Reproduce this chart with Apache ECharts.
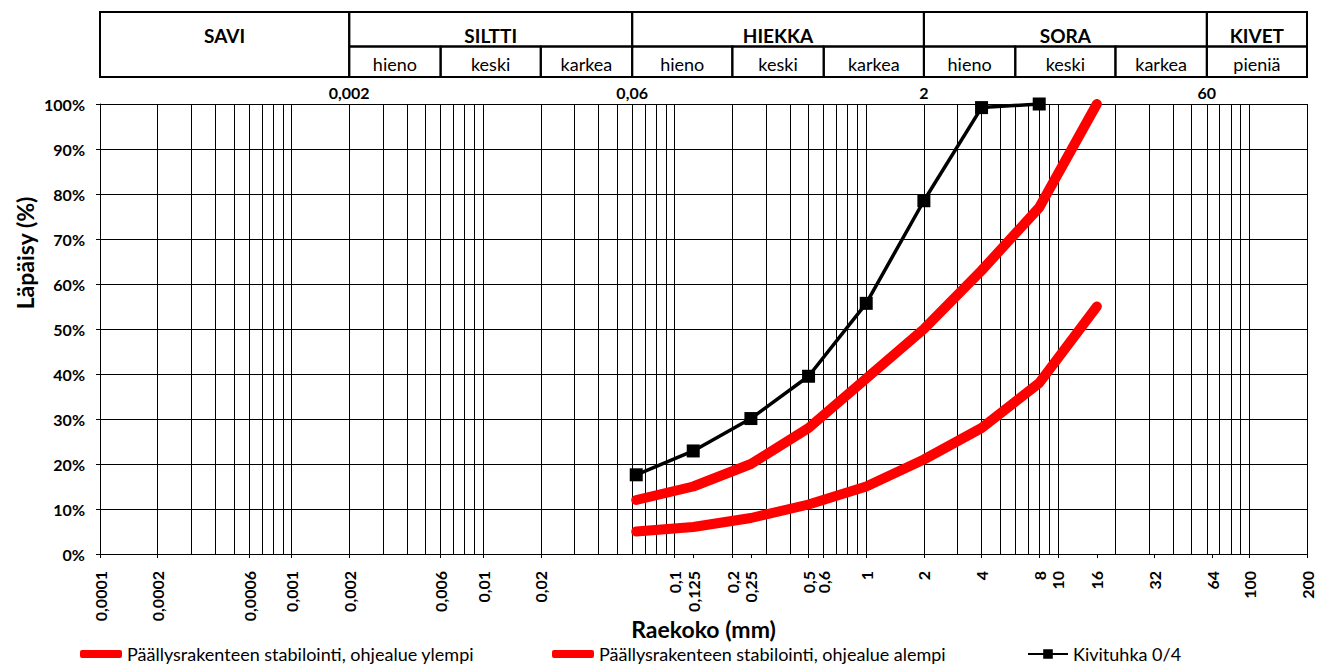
<!DOCTYPE html>
<html><head><meta charset="utf-8">
<script src="https://cdn.jsdelivr.net/npm/echarts@6/dist/echarts.min.js"></script>
<style>html,body{margin:0;padding:0;background:#fff}#c{width:1319px;height:666px}</style>
</head><body><div id="c"></div>
<script>
// ---- data ----
const seriesNames = ['Päällysrakenteen stabilointi, ohjealue ylempi', 'Päällysrakenteen stabilointi, ohjealue alempi', 'Kivituhka 0/4'];
const limitSizes = [0.063, 0.125, 0.25, 0.5, 1, 2, 4, 8, 16];
const upperLimit = [12, 15, 20, 28, 39, 50, 63, 77, 100];
const lowerLimit = [5, 6, 8, 11, 15, 21, 28, 38, 55];
const kivituhkaSizes = [0.063, 0.125, 0.25, 0.5, 1, 2, 4, 8];
const kivituhka = [17.6, 22.9, 30.1, 39.5, 55.7, 78.5, 99.2, 100];
const xTickValues = [0.0001, 0.0002, 0.0006, 0.001, 0.002, 0.006, 0.01, 0.02, 0.1, 0.125, 0.2, 0.25, 0.5, 0.6, 1, 2, 4, 8, 10, 16, 32, 64, 100, 200];
const boundaryValues = [0.002, 0.06, 2, 60];
const mainGroups = ['SAVI', 'SILTTI', 'HIEKKA', 'SORA', 'KIVET'];
const mainBounds = [[0.0001, 0.002], [0.002, 0.06], [0.06, 2], [2, 60], [60, 200]];
const subGroups = ['hieno', 'keski', 'karkea', 'hieno', 'keski', 'karkea', 'hieno', 'keski', 'karkea', 'pieniä'];
const subBounds = [[0.002, 0.006], [0.006, 0.02], [0.02, 0.06], [0.06, 0.2], [0.2, 0.6], [0.6, 2], [2, 6], [6, 20], [20, 60], [60, 200]];
const xMin = 0.0001, xMax = 200;

// log grid lines: 1..9 per decade, plus 200
const gridValues = [];
for (let e = -4; e <= 1; e++) for (let m = 1; m <= 9; m++) gridValues.push(parseFloat((m * Math.pow(10, e)).toPrecision(3)));
gridValues.push(100, 200);

const FONT = 'Lato, "Open Sans", sans-serif';
const fmt = v => String(parseFloat(Number(v).toPrecision(6))).replace('.', ',');
const zip = (xs, ys) => xs.map((x, i) => [x, ys[i]]);

const chart = echarts.init(document.getElementById('c'), null, {renderer: 'svg'});

function cell(api, from, to, yTop, yBot, textY, text, font) {
  const p0 = api.coord([from, yTop]);
  const p1 = api.coord([to, yBot]);
  const pt = api.coord([from, textY]);
  return {
    type: 'group',
    children: [
      {type: 'rect', shape: {x: p0[0], y: p0[1], width: p1[0] - p0[0], height: p1[1] - p0[1]},
       style: {fill: 'none', stroke: '#000', lineWidth: 2}},
      {type: 'text', style: {text: text, x: (p0[0] + p1[0]) / 2, y: pt[1], align: 'center', verticalAlign: 'middle', font: font, fill: '#000'}}
    ]
  };
}

const legendText = {fontFamily: FONT, fontSize: 18, color: '#000'};

const option = {
  animation: false,
  backgroundColor: '#fff',
  grid: [
    {left: 100, right: 12, top: 104, bottom: 112, containLabel: false},
    {left: 100, right: 12, top: 12, height: 65, containLabel: false}
  ],
  xAxis: [
    { // grid lines
      type: 'log', gridIndex: 0, min: xMin, max: xMax, position: 'bottom',
      axisLine: {show: true, onZero: false, lineStyle: {color: '#000', width: 1}},
      axisTick: {show: false, customValues: gridValues},
      axisLabel: {show: false},
      splitLine: {show: true, lineStyle: {color: '#000', width: 1}}
    },
    { // labelled ticks
      type: 'log', gridIndex: 0, min: xMin, max: xMax, position: 'bottom',
      axisLine: {show: false},
      axisTick: {show: true, inside: false, length: 4, customValues: xTickValues, lineStyle: {color: '#000'}},
      axisLabel: {show: true, customValues: xTickValues, rotate: 90, margin: 17, formatter: fmt,
        fontFamily: FONT, fontWeight: 'bold', fontSize: 16, color: '#000'},
      splitLine: {show: false},
      name: 'Raekoko (mm)', nameLocation: 'middle', nameGap: 63, nameMoveOverlap: false,
      nameTextStyle: {fontFamily: FONT, fontWeight: 'bold', fontSize: 23, color: '#000'}
    },
    { // header boundaries
      type: 'log', gridIndex: 1, min: xMin, max: xMax, position: 'bottom',
      axisLine: {show: false}, axisTick: {show: false}, splitLine: {show: false},
      axisLabel: {show: true, customValues: boundaryValues, margin: 7, formatter: fmt,
        fontFamily: FONT, fontWeight: 'bold', fontSize: 16, color: '#000'}
    }
  ],
  yAxis: [
    {
      type: 'value', gridIndex: 0, min: 0, max: 100, interval: 10,
      axisLine: {show: true, lineStyle: {color: '#000', width: 1}},
      axisTick: {show: true, inside: false, length: 4, lineStyle: {color: '#000'}},
      axisLabel: {formatter: '{value}%', margin: 15, fontFamily: FONT, fontWeight: 'bold', fontSize: 16, color: '#000'},
      splitLine: {show: true, lineStyle: {color: '#000', width: 1}}
    },
    {type: 'value', gridIndex: 1, min: 0, max: 1, show: false}
  ],
  graphic: [
    {type: 'text', x: 25, y: 253, rotation: Math.PI / 2,
     style: {text: 'Läpäisy (%)', align: 'center', verticalAlign: 'middle', font: 'bold 23px ' + FONT, fill: '#000'}}
  ],
  legend: [
    {data: [seriesNames[0]], left: 80, top: 645, padding: 0, icon: 'roundRect', itemWidth: 42, itemHeight: 8,
     textStyle: legendText, selectedMode: false},
    {data: [seriesNames[1]], left: 552, top: 645, padding: 0, icon: 'roundRect', itemWidth: 42, itemHeight: 8,
     textStyle: legendText, selectedMode: false},
    {data: [seriesNames[2]], left: 1027, top: 645, padding: 0, itemWidth: 40, itemHeight: 12,
     textStyle: legendText, selectedMode: false}
  ],
  series: [
    {name: seriesNames[0], type: 'line', xAxisIndex: 0, yAxisIndex: 0, data: zip(limitSizes, upperLimit),
     symbol: 'none', itemStyle: {color: '#ff0000'},
     lineStyle: {color: '#ff0000', width: 10, cap: 'round', join: 'round'}, z: 3},
    {name: seriesNames[1], type: 'line', xAxisIndex: 0, yAxisIndex: 0, data: zip(limitSizes, lowerLimit),
     symbol: 'none', itemStyle: {color: '#ff0000'},
     lineStyle: {color: '#ff0000', width: 10, cap: 'round', join: 'round'}, z: 3},
    {name: seriesNames[2], type: 'line', xAxisIndex: 0, yAxisIndex: 0, data: zip(kivituhkaSizes, kivituhka),
     symbol: 'rect', symbolSize: 13, itemStyle: {color: '#000'},
     lineStyle: {color: '#000', width: 3.5}, z: 4},
    {type: 'custom', xAxisIndex: 2, yAxisIndex: 1, data: mainBounds, silent: true,
     renderItem: (params, api) => {
       const i = params.dataIndex;
       const hasSub = subBounds.some(b => b[0] >= mainBounds[i][0] && b[1] <= mainBounds[i][1]);
       return cell(api, api.value(0), api.value(1), 1, hasSub ? 0.469 : 0, 0.64, mainGroups[i], 'bold 19px ' + FONT);
     }},
    {type: 'custom', xAxisIndex: 2, yAxisIndex: 1, data: subBounds, silent: true,
     renderItem: (params, api) => {
       const i = params.dataIndex;
       return cell(api, api.value(0), api.value(1), 0.469, 0, 0.2, subGroups[i], '18px ' + FONT);
     }}
  ]
};
chart.setOption(option);
</script></body></html>
